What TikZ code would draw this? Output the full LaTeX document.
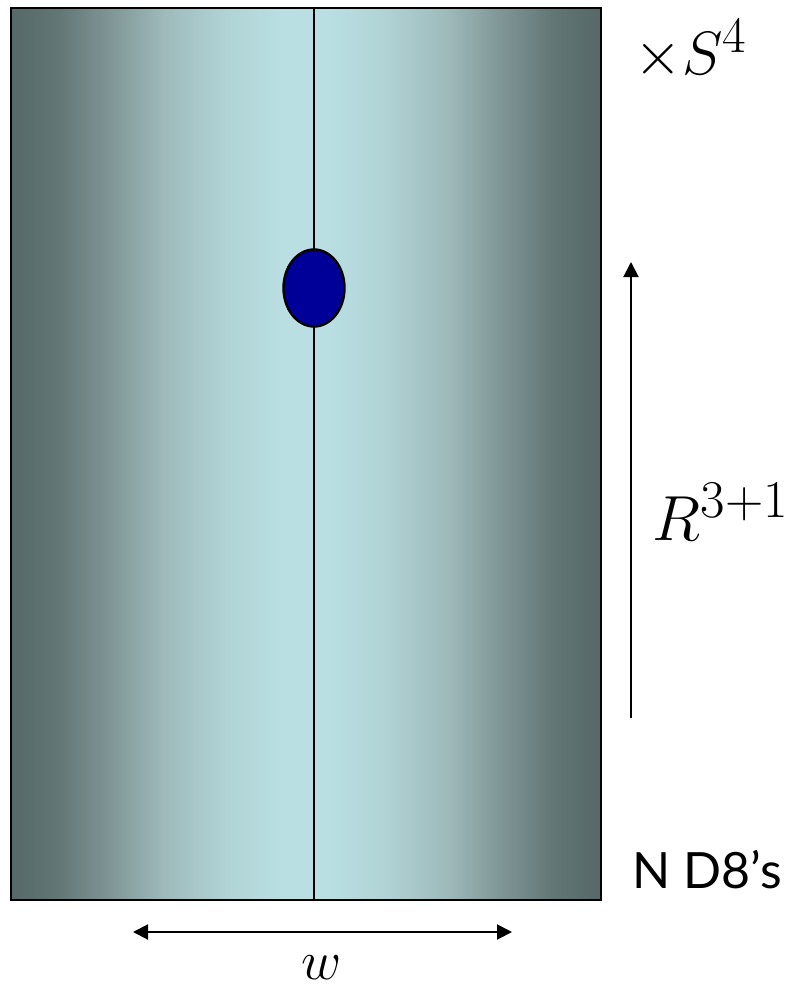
\documentclass[tikz,border=0pt]{standalone}
\usepackage{amsmath}
\usepackage{graphicx}
\usepackage{fontspec}
\newfontfamily\branefont{Lato}
\usepackage{tikz}
\usetikzlibrary{shapes}
\usetikzlibrary{arrows.meta}

\definecolor{slabedge}{RGB}{86,104,104}
\definecolor{slabdark}{RGB}{98,118,118}
\definecolor{slabmid}{RGB}{128,150,150}
\definecolor{slabpale}{RGB}{158,186,187}
\definecolor{slablight}{RGB}{176,210,212}
\definecolor{slabcore}{RGB}{185,223,226}
\definecolor{dotblue}{RGB}{0,0,153}

% the shading is fitted to the middle half (25bp--75bp)
\pgfdeclarehorizontalshading{slabshade}{100bp}{color(0bp)=(slabedge); color(25bp)=(slabedge); color(29bp)=(slabdark); color(33.5bp)=(slabmid); color(38bp)=(slabpale); color(43bp)=(slablight); color(48bp)=(slabcore); color(52bp)=(slabcore); color(57bp)=(slablight); color(62bp)=(slabpale); color(66.5bp)=(slabmid); color(71bp)=(slabdark); color(75bp)=(slabedge); color(100bp)=(slabedge)}

\newcommand{\biglabel}[2]{\scalebox{#1}{\fontsize{24.88}{30}\selectfont$#2$}}

\begin{document}
\begin{tikzpicture}[x=0.5pt,y=-0.5pt,>={Triangle[length=7.5pt,width=7.5pt]}]
    \tikzstyle{slab}=[rectangle,draw,line width=1pt,shade,shading=slabshade,minimum width=295pt,minimum height=446pt,inner sep=0pt]
    \tikzstyle{brane}=[ellipse,draw,line width=1.2pt,fill=dotblue,minimum width=30.5pt,minimum height=38.5pt,inner sep=0pt]
    \tikzstyle{axis}=[line width=1pt]
    \tikzstyle{mathlabel}=[inner sep=0pt]
    \useasboundingbox (0,0) rectangle (800,995);
    \node[slab] (slab) at (305.5,454) {};
    \coordinate (core) at (314,288);
    \draw[axis] (slab.north -| core) -- (slab.south -| core);
    \node[brane] (dot) at (core) {};
    % time direction
    \coordinate (tbot) at (631,718);
    \coordinate (ttop) at (631,262);
    \draw[axis,->] (tbot) -- (ttop);
    % width of the slab
    \coordinate (wl) at (133,932);
    \coordinate (wr) at (512,932);
    \draw[axis,<->] (wl) -- (wr);
    \node[mathlabel] (sphere) at (691,50) {\biglabel{1.23}{\times S^4}};
    \node[mathlabel] (space) at (721,512) {\biglabel{1.28}{R^{3+1}}};
    \node[mathlabel] (count) at (707,870) {\fontsize{25}{30}\selectfont\branefont N D8’s};
    \node[mathlabel] (width) at (322,968) {\biglabel{1.11}{w}};
\end{tikzpicture}
\end{document}
